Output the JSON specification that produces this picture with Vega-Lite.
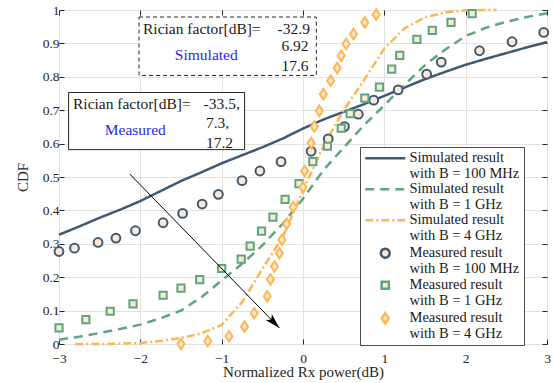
{
  "$schema": "https://vega.github.io/schema/vega-lite/v6.json",
  "autosize": {"type": "none"},
  "width": 488,
  "height": 334,
  "padding": {"left": 59, "top": 10, "right": 7, "bottom": 39},
  "background": "white",
  "config": {
    "font": "Liberation Serif, Times New Roman, Times, serif",
    "view": {"stroke": "#262626", "strokeWidth": 1},
    "axis": {
      "labelFont": "Liberation Serif, Times New Roman, Times, serif", "labelFontSize": 13.5, "labelColor": "#262626",
      "titleFont": "Liberation Serif, Times New Roman, Times, serif", "titleFontSize": 15, "titleFontWeight": "normal", "titleColor": "#262626",
      "gridColor": "#e2e2e2", "gridOpacity": 1, "tickColor": "#262626", "domain": false
    },
    "text": {"font": "Liberation Serif, Times New Roman, Times, serif"}
  },
  "datasets": {
    "sim": [
      {"series": "Simulated result|with B = 100 MHz", "x": -3, "y": 0.327},
      {"series": "Simulated result|with B = 100 MHz", "x": -2.75, "y": 0.352},
      {"series": "Simulated result|with B = 100 MHz", "x": -2.5, "y": 0.378},
      {"series": "Simulated result|with B = 100 MHz", "x": -2.25, "y": 0.402},
      {"series": "Simulated result|with B = 100 MHz", "x": -2, "y": 0.428},
      {"series": "Simulated result|with B = 100 MHz", "x": -1.75, "y": 0.458},
      {"series": "Simulated result|with B = 100 MHz", "x": -1.5, "y": 0.488},
      {"series": "Simulated result|with B = 100 MHz", "x": -1.25, "y": 0.514},
      {"series": "Simulated result|with B = 100 MHz", "x": -1, "y": 0.541},
      {"series": "Simulated result|with B = 100 MHz", "x": -0.75, "y": 0.565},
      {"series": "Simulated result|with B = 100 MHz", "x": -0.5, "y": 0.589},
      {"series": "Simulated result|with B = 100 MHz", "x": -0.25, "y": 0.615},
      {"series": "Simulated result|with B = 100 MHz", "x": 0, "y": 0.645},
      {"series": "Simulated result|with B = 100 MHz", "x": 0.25, "y": 0.672},
      {"series": "Simulated result|with B = 100 MHz", "x": 0.5, "y": 0.695},
      {"series": "Simulated result|with B = 100 MHz", "x": 0.75, "y": 0.718},
      {"series": "Simulated result|with B = 100 MHz", "x": 1, "y": 0.743},
      {"series": "Simulated result|with B = 100 MHz", "x": 1.25, "y": 0.768},
      {"series": "Simulated result|with B = 100 MHz", "x": 1.5, "y": 0.793},
      {"series": "Simulated result|with B = 100 MHz", "x": 1.75, "y": 0.815},
      {"series": "Simulated result|with B = 100 MHz", "x": 2, "y": 0.836},
      {"series": "Simulated result|with B = 100 MHz", "x": 2.25, "y": 0.854},
      {"series": "Simulated result|with B = 100 MHz", "x": 2.5, "y": 0.871},
      {"series": "Simulated result|with B = 100 MHz", "x": 2.75, "y": 0.888},
      {"series": "Simulated result|with B = 100 MHz", "x": 3, "y": 0.904},
      {"series": "Simulated result|with B = 1 GHz", "x": -3, "y": 0.013},
      {"series": "Simulated result|with B = 1 GHz", "x": -2.75, "y": 0.022},
      {"series": "Simulated result|with B = 1 GHz", "x": -2.5, "y": 0.033},
      {"series": "Simulated result|with B = 1 GHz", "x": -2.25, "y": 0.045},
      {"series": "Simulated result|with B = 1 GHz", "x": -2, "y": 0.058},
      {"series": "Simulated result|with B = 1 GHz", "x": -1.75, "y": 0.077},
      {"series": "Simulated result|with B = 1 GHz", "x": -1.5, "y": 0.1},
      {"series": "Simulated result|with B = 1 GHz", "x": -1.25, "y": 0.14},
      {"series": "Simulated result|with B = 1 GHz", "x": -1, "y": 0.19},
      {"series": "Simulated result|with B = 1 GHz", "x": -0.75, "y": 0.24},
      {"series": "Simulated result|with B = 1 GHz", "x": -0.5, "y": 0.295},
      {"series": "Simulated result|with B = 1 GHz", "x": -0.25, "y": 0.36},
      {"series": "Simulated result|with B = 1 GHz", "x": 0, "y": 0.435},
      {"series": "Simulated result|with B = 1 GHz", "x": 0.25, "y": 0.52},
      {"series": "Simulated result|with B = 1 GHz", "x": 0.5, "y": 0.588},
      {"series": "Simulated result|with B = 1 GHz", "x": 0.75, "y": 0.655},
      {"series": "Simulated result|with B = 1 GHz", "x": 1, "y": 0.715},
      {"series": "Simulated result|with B = 1 GHz", "x": 1.25, "y": 0.776},
      {"series": "Simulated result|with B = 1 GHz", "x": 1.5, "y": 0.835},
      {"series": "Simulated result|with B = 1 GHz", "x": 1.75, "y": 0.882},
      {"series": "Simulated result|with B = 1 GHz", "x": 2, "y": 0.922},
      {"series": "Simulated result|with B = 1 GHz", "x": 2.25, "y": 0.947},
      {"series": "Simulated result|with B = 1 GHz", "x": 2.5, "y": 0.965},
      {"series": "Simulated result|with B = 1 GHz", "x": 2.75, "y": 0.979},
      {"series": "Simulated result|with B = 1 GHz", "x": 3, "y": 0.99},
      {"series": "Simulated result|with B = 4 GHz", "x": -2.8, "y": 0.0},
      {"series": "Simulated result|with B = 4 GHz", "x": -2.5, "y": 0.0},
      {"series": "Simulated result|with B = 4 GHz", "x": -2.25, "y": 0.001},
      {"series": "Simulated result|with B = 4 GHz", "x": -2, "y": 0.003},
      {"series": "Simulated result|with B = 4 GHz", "x": -1.75, "y": 0.009},
      {"series": "Simulated result|with B = 4 GHz", "x": -1.5, "y": 0.018},
      {"series": "Simulated result|with B = 4 GHz", "x": -1.25, "y": 0.032},
      {"series": "Simulated result|with B = 4 GHz", "x": -1, "y": 0.057},
      {"series": "Simulated result|with B = 4 GHz", "x": -0.75, "y": 0.125},
      {"series": "Simulated result|with B = 4 GHz", "x": -0.5, "y": 0.225},
      {"series": "Simulated result|with B = 4 GHz", "x": -0.25, "y": 0.32},
      {"series": "Simulated result|with B = 4 GHz", "x": 0, "y": 0.46},
      {"series": "Simulated result|with B = 4 GHz", "x": 0.25, "y": 0.592},
      {"series": "Simulated result|with B = 4 GHz", "x": 0.5, "y": 0.7},
      {"series": "Simulated result|with B = 4 GHz", "x": 0.75, "y": 0.79},
      {"series": "Simulated result|with B = 4 GHz", "x": 1, "y": 0.885},
      {"series": "Simulated result|with B = 4 GHz", "x": 1.25, "y": 0.945},
      {"series": "Simulated result|with B = 4 GHz", "x": 1.5, "y": 0.978},
      {"series": "Simulated result|with B = 4 GHz", "x": 1.75, "y": 0.993},
      {"series": "Simulated result|with B = 4 GHz", "x": 2, "y": 0.999},
      {"series": "Simulated result|with B = 4 GHz", "x": 2.38, "y": 1.0}
    ],
    "meas": [
      {"series": "Measured result|with B = 100 MHz", "x": -3, "y": 0.277},
      {"series": "Measured result|with B = 100 MHz", "x": -2.81, "y": 0.287},
      {"series": "Measured result|with B = 100 MHz", "x": -2.52, "y": 0.304},
      {"series": "Measured result|with B = 100 MHz", "x": -2.3, "y": 0.317},
      {"series": "Measured result|with B = 100 MHz", "x": -2.06, "y": 0.339},
      {"series": "Measured result|with B = 100 MHz", "x": -1.72, "y": 0.363},
      {"series": "Measured result|with B = 100 MHz", "x": -1.48, "y": 0.391},
      {"series": "Measured result|with B = 100 MHz", "x": -1.24, "y": 0.419},
      {"series": "Measured result|with B = 100 MHz", "x": -1.04, "y": 0.448},
      {"series": "Measured result|with B = 100 MHz", "x": -0.75, "y": 0.489},
      {"series": "Measured result|with B = 100 MHz", "x": -0.53, "y": 0.518},
      {"series": "Measured result|with B = 100 MHz", "x": -0.27, "y": 0.546},
      {"series": "Measured result|with B = 100 MHz", "x": 0.1, "y": 0.577},
      {"series": "Measured result|with B = 100 MHz", "x": 0.31, "y": 0.614},
      {"series": "Measured result|with B = 100 MHz", "x": 0.51, "y": 0.651},
      {"series": "Measured result|with B = 100 MHz", "x": 0.68, "y": 0.688},
      {"series": "Measured result|with B = 100 MHz", "x": 0.87, "y": 0.73},
      {"series": "Measured result|with B = 100 MHz", "x": 1.17, "y": 0.761},
      {"series": "Measured result|with B = 100 MHz", "x": 1.52, "y": 0.808},
      {"series": "Measured result|with B = 100 MHz", "x": 1.7, "y": 0.844},
      {"series": "Measured result|with B = 100 MHz", "x": 2.17, "y": 0.878},
      {"series": "Measured result|with B = 100 MHz", "x": 2.57, "y": 0.905},
      {"series": "Measured result|with B = 100 MHz", "x": 2.96, "y": 0.933},
      {"series": "Measured result|with B = 1 GHz", "x": -3, "y": 0.048},
      {"series": "Measured result|with B = 1 GHz", "x": -2.67, "y": 0.073},
      {"series": "Measured result|with B = 1 GHz", "x": -2.37, "y": 0.098},
      {"series": "Measured result|with B = 1 GHz", "x": -2.09, "y": 0.12},
      {"series": "Measured result|with B = 1 GHz", "x": -1.72, "y": 0.146},
      {"series": "Measured result|with B = 1 GHz", "x": -1.5, "y": 0.167},
      {"series": "Measured result|with B = 1 GHz", "x": -1.27, "y": 0.193},
      {"series": "Measured result|with B = 1 GHz", "x": -1.0, "y": 0.226},
      {"series": "Measured result|with B = 1 GHz", "x": -0.76, "y": 0.254},
      {"series": "Measured result|with B = 1 GHz", "x": -0.65, "y": 0.293},
      {"series": "Measured result|with B = 1 GHz", "x": -0.51, "y": 0.338},
      {"series": "Measured result|with B = 1 GHz", "x": -0.37, "y": 0.38},
      {"series": "Measured result|with B = 1 GHz", "x": -0.22, "y": 0.433},
      {"series": "Measured result|with B = 1 GHz", "x": -0.05, "y": 0.48},
      {"series": "Measured result|with B = 1 GHz", "x": 0.12, "y": 0.546},
      {"series": "Measured result|with B = 1 GHz", "x": 0.3, "y": 0.592},
      {"series": "Measured result|with B = 1 GHz", "x": 0.47, "y": 0.646},
      {"series": "Measured result|with B = 1 GHz", "x": 0.58, "y": 0.69},
      {"series": "Measured result|with B = 1 GHz", "x": 0.76, "y": 0.736},
      {"series": "Measured result|with B = 1 GHz", "x": 0.94, "y": 0.769},
      {"series": "Measured result|with B = 1 GHz", "x": 1.09, "y": 0.823},
      {"series": "Measured result|with B = 1 GHz", "x": 1.19, "y": 0.864},
      {"series": "Measured result|with B = 1 GHz", "x": 1.4, "y": 0.912},
      {"series": "Measured result|with B = 1 GHz", "x": 1.59, "y": 0.939},
      {"series": "Measured result|with B = 1 GHz", "x": 1.82, "y": 0.963},
      {"series": "Measured result|with B = 1 GHz", "x": 2.08, "y": 0.989},
      {"series": "Measured result|with B = 4 GHz", "x": -1.5, "y": 0.0},
      {"series": "Measured result|with B = 4 GHz", "x": -1.17, "y": 0.009},
      {"series": "Measured result|with B = 4 GHz", "x": -0.91, "y": 0.023},
      {"series": "Measured result|with B = 4 GHz", "x": -0.72, "y": 0.052},
      {"series": "Measured result|with B = 4 GHz", "x": -0.6, "y": 0.092},
      {"series": "Measured result|with B = 4 GHz", "x": -0.44, "y": 0.143},
      {"series": "Measured result|with B = 4 GHz", "x": -0.4, "y": 0.193},
      {"series": "Measured result|with B = 4 GHz", "x": -0.35, "y": 0.232},
      {"series": "Measured result|with B = 4 GHz", "x": -0.29, "y": 0.272},
      {"series": "Measured result|with B = 4 GHz", "x": -0.26, "y": 0.312},
      {"series": "Measured result|with B = 4 GHz", "x": -0.2, "y": 0.36},
      {"series": "Measured result|with B = 4 GHz", "x": -0.12, "y": 0.41},
      {"series": "Measured result|with B = 4 GHz", "x": 0.0, "y": 0.469},
      {"series": "Measured result|with B = 4 GHz", "x": 0.02, "y": 0.518},
      {"series": "Measured result|with B = 4 GHz", "x": 0.1, "y": 0.602},
      {"series": "Measured result|with B = 4 GHz", "x": 0.14, "y": 0.651},
      {"series": "Measured result|with B = 4 GHz", "x": 0.2, "y": 0.698},
      {"series": "Measured result|with B = 4 GHz", "x": 0.25, "y": 0.748},
      {"series": "Measured result|with B = 4 GHz", "x": 0.34, "y": 0.788},
      {"series": "Measured result|with B = 4 GHz", "x": 0.42, "y": 0.826},
      {"series": "Measured result|with B = 4 GHz", "x": 0.47, "y": 0.863},
      {"series": "Measured result|with B = 4 GHz", "x": 0.53, "y": 0.898},
      {"series": "Measured result|with B = 4 GHz", "x": 0.62, "y": 0.928},
      {"series": "Measured result|with B = 4 GHz", "x": 0.76, "y": 0.963},
      {"series": "Measured result|with B = 4 GHz", "x": 0.9, "y": 0.986}
    ],
    "boxSim": [{"x": -2.016, "x2": 0.164, "y": 0.804, "y2": 0.979}],
    "boxMeas": [{"x": -2.882, "x2": -0.718, "y": 0.582, "y2": 0.753}],
    "txtLeft": [
      {"x": -1.967, "y": 0.943, "text": "Rician factor[dB]="},
      {"x": -2.828, "y": 0.719, "text": "Rician factor[dB]="},
      {"x": -1.222, "y": 0.719, "text": "-33.5,"},
      {"x": -1.193, "y": 0.663, "text": "7.3,"},
      {"x": -1.193, "y": 0.603, "text": "17.2"}
    ],
    "txtRight": [
      {"x": 0.085, "y": 0.943, "text": "-32.9"},
      {"x": 0.069, "y": 0.891, "text": "6.92"},
      {"x": 0.069, "y": 0.833, "text": "17.6"}
    ],
    "txtBlue": [
      {"x": -1.189, "y": 0.866, "text": "Simulated"},
      {"x": -2.062, "y": 0.642, "text": "Measured"}
    ],
    "arrow": [{"x": -2.13, "y": 0.509, "x2": -0.29, "y2": 0.048}]
  },
  "resolve": {"axis": {"x": "independent", "y": "independent"}},
  "layer": [
    {
      "data": {"name": "sim"},
      "mark": {"type": "line", "strokeWidth": 2.5},
      "encoding": {
        "x": {"field": "x", "type": "quantitative",
          "scale": {"domain": [-3, 3], "nice": false, "zero": false},
          "axis": {"orient": "bottom", "values": [-3, -2, -1, 0, 1, 2, 3], "tickSize": -5, "labelPadding": 12, "title": "Normalized Rx power(dB)", "titlePadding": 0, "labelFlush": false}},
        "y": {"field": "y", "type": "quantitative",
          "scale": {"domain": [0, 1], "nice": false, "zero": false},
          "axis": {"orient": "left", "values": [0, 0.1, 0.2, 0.3, 0.4, 0.5, 0.6, 0.7, 0.8, 0.9, 1], "format": "~g", "tickSize": -5, "labelPadding": 5, "title": "CDF", "titlePadding": 12, "labelFlush": false}},
        "color": {"field": "series", "type": "nominal",
          "scale": {
            "domain": ["Simulated result|with B = 100 MHz", "Simulated result|with B = 1 GHz", "Simulated result|with B = 4 GHz", "Measured result|with B = 100 MHz", "Measured result|with B = 1 GHz", "Measured result|with B = 4 GHz"],
            "range": ["#3e5b73", "#5ea67e", "#ffb652", "#3e5b73", "#5ea67e", "#ffb652"]},
          "legend": {"orient": "none", "legendX": 301, "legendY": 137, "title": null,
            "labelExpr": "split(datum.label, '|')", "labelFont": "Liberation Serif, Times New Roman, Times, serif", "labelFontSize": 14.5, "labelColor": "#1a1a1a",
            "strokeColor": "#4d4d4d", "fillColor": "white", "padding": 4, "rowPadding": 0, "labelOffset": 17, "symbolOffset": 14, "symbolStrokeWidth": 2.5, "labelLimit": 300,
            "encode": {"labels": {"update": {"lineHeight": {"value": 15.5}}}, "symbols": {"update": {"fill": {"value": "#fce8d4"}, "strokeWidth": {"value": 2.5}}}}}},
        "strokeDash": {"field": "series", "type": "nominal",
          "scale": {
            "domain": ["Simulated result|with B = 100 MHz", "Simulated result|with B = 1 GHz", "Simulated result|with B = 4 GHz", "Measured result|with B = 100 MHz", "Measured result|with B = 1 GHz", "Measured result|with B = 4 GHz"],
            "range": [[1, 0], [9, 6], [8, 3, 2, 3], [1, 0], [1, 0], [1, 0]]},
          "legend": {"orient": "none", "legendX": 301, "legendY": 137, "title": null,
            "labelExpr": "split(datum.label, '|')", "labelFont": "Liberation Serif, Times New Roman, Times, serif", "labelFontSize": 14.5, "labelColor": "#1a1a1a",
            "strokeColor": "#4d4d4d", "fillColor": "white", "padding": 4, "rowPadding": 0, "labelOffset": 17, "symbolOffset": 14, "symbolStrokeWidth": 2.5, "labelLimit": 300,
            "encode": {"labels": {"update": {"lineHeight": {"value": 15.5}}}, "symbols": {"update": {"fill": {"value": "#fce8d4"}, "strokeWidth": {"value": 2.5}}}}}}
      }
    },
    {
      "data": {"name": "meas"},
      "mark": {"type": "point", "filled": false, "fill": "#fce8d4", "strokeWidth": 2, "size": 100, "opacity": 1},
      "encoding": {
        "x": {"field": "x", "type": "quantitative",
          "axis": {"orient": "top", "values": [-3, -2, -1, 0, 1, 2, 3], "tickSize": -5, "labels": false, "title": null, "grid": false}},
        "y": {"field": "y", "type": "quantitative",
          "axis": {"orient": "right", "values": [0, 0.1, 0.2, 0.3, 0.4, 0.5, 0.6, 0.7, 0.8, 0.9, 1], "tickSize": -5, "labels": false, "title": null, "grid": false}},
        "color": {"field": "series", "type": "nominal"},
        "shape": {"field": "series", "type": "nominal",
          "scale": {
            "domain": ["Simulated result|with B = 100 MHz", "Simulated result|with B = 1 GHz", "Simulated result|with B = 4 GHz", "Measured result|with B = 100 MHz", "Measured result|with B = 1 GHz", "Measured result|with B = 4 GHz"],
            "range": ["M-4,0H4", "M-4,0H4", "M-4,0H4", "M0.88,0A0.88,0.88,0,1,1,-0.88,0A0.88,0.88,0,1,1,0.88,0Z", "M-0.72,-0.72H0.72V0.72H-0.72Z", "M0,-1.05L0.7,0L0,1.05L-0.7,0Z"]},
          "legend": {"orient": "none", "legendX": 301, "legendY": 137, "title": null,
            "labelExpr": "split(datum.label, '|')", "labelFont": "Liberation Serif, Times New Roman, Times, serif", "labelFontSize": 14.5, "labelColor": "#1a1a1a",
            "strokeColor": "#4d4d4d", "fillColor": "white", "padding": 4, "rowPadding": 0, "labelOffset": 17, "symbolOffset": 14, "symbolStrokeWidth": 2.5, "labelLimit": 300,
            "encode": {"labels": {"update": {"lineHeight": {"value": 15.5}}}, "symbols": {"update": {"fill": {"value": "#fce8d4"}, "strokeWidth": {"value": 2.5}}}}}}
      }
    },
    {
      "data": {"name": "boxSim"},
      "mark": {"type": "rect", "fill": "white", "stroke": "#262626", "strokeWidth": 1, "strokeDash": [4, 3]},
      "encoding": {
        "x": {"field": "x", "type": "quantitative", "axis": null},
        "x2": {"field": "x2"},
        "y": {"field": "y", "type": "quantitative", "axis": null},
        "y2": {"field": "y2"}
      }
    },
    {
      "data": {"name": "boxMeas"},
      "mark": {"type": "rect", "fill": "white", "stroke": "#262626", "strokeWidth": 1},
      "encoding": {
        "x": {"field": "x", "type": "quantitative", "axis": null},
        "x2": {"field": "x2"},
        "y": {"field": "y", "type": "quantitative", "axis": null},
        "y2": {"field": "y2"}
      }
    },
    {
      "data": {"name": "txtLeft"},
      "mark": {"type": "text", "align": "left", "baseline": "middle", "font": "Liberation Serif, Times New Roman, Times, serif", "fontSize": 15.5, "color": "#1a1a1a"},
      "encoding": {
        "x": {"field": "x", "type": "quantitative", "axis": null},
        "y": {"field": "y", "type": "quantitative", "axis": null},
        "text": {"field": "text"}
      }
    },
    {
      "data": {"name": "txtRight"},
      "mark": {"type": "text", "align": "right", "baseline": "middle", "font": "Liberation Serif, Times New Roman, Times, serif", "fontSize": 15.5, "color": "#1a1a1a"},
      "encoding": {
        "x": {"field": "x", "type": "quantitative", "axis": null},
        "y": {"field": "y", "type": "quantitative", "axis": null},
        "text": {"field": "text"}
      }
    },
    {
      "data": {"name": "txtBlue"},
      "mark": {"type": "text", "align": "center", "baseline": "middle", "font": "Liberation Serif, Times New Roman, Times, serif", "fontSize": 15.5, "color": "#1f1fff"},
      "encoding": {
        "x": {"field": "x", "type": "quantitative", "axis": null},
        "y": {"field": "y", "type": "quantitative", "axis": null},
        "text": {"field": "text"}
      }
    },
    {
      "data": {"name": "arrow"},
      "mark": {"type": "rule", "color": "black", "strokeWidth": 1},
      "encoding": {
        "x": {"field": "x", "type": "quantitative", "axis": null},
        "y": {"field": "y", "type": "quantitative", "axis": null},
        "x2": {"field": "x2"},
        "y2": {"field": "y2"}
      }
    },
    {
      "data": {"name": "arrow"},
      "mark": {"type": "point", "shape": "M0,0L-0.45,1.6L0,1.25L0.45,1.6Z", "filled": true, "color": "black", "opacity": 1, "size": 352, "angle": 135.7},
      "encoding": {
        "x": {"field": "x2", "type": "quantitative", "axis": null},
        "y": {"field": "y2", "type": "quantitative", "axis": null}
      }
    }
  ]
}
